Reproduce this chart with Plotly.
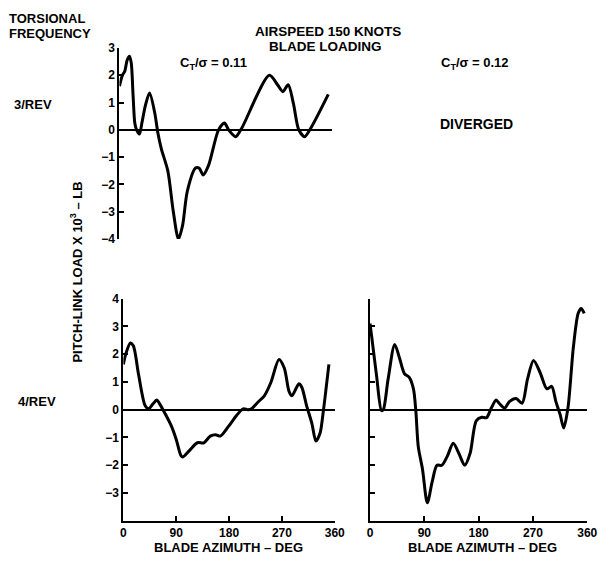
import plotly.graph_objects as go

# ---- data ----
az_3rev_011 = [0, 5, 9, 13, 17, 20, 23, 26, 29, 34, 38, 44, 51, 60, 65, 71, 82, 91, 100, 107, 115, 129, 135,
               142, 151, 168, 178, 185, 197, 207, 254, 268, 277, 286, 295, 304, 314, 324, 354]
load_3rev_011 = [1.6, 2.0, 2.15, 2.55, 2.7, 2.45, 1.3, 0.25, 0.0, -0.15, 0.25, 0.9, 1.35, 0.6, -0.1, -0.7,
                 -1.5, -2.95, -4.0, -3.5, -2.25, -1.4, -1.4, -1.65, -1.3, 0.0, 0.25, 0.0, -0.25, 0.05, 2.0,
                 1.65, 1.4, 1.65, 0.95, 0.0, -0.25, 0.05, 1.3]

az_4rev_011 = [0, 4, 12, 17, 26, 37, 43, 50, 57, 62, 71, 82, 90, 98, 101, 112, 126, 137, 148, 157, 165, 179,
               193, 204, 212, 218, 229, 240, 251, 265, 274, 282, 287, 299, 304, 312, 321, 328, 335, 340, 350]
load_4rev_011 = [1.63, 2.0, 2.4, 2.3, 1.25, 0.15, 0.03, 0.2, 0.35, 0.2, -0.14, -0.6, -1.07, -1.65, -1.7,
                 -1.48, -1.19, -1.19, -0.95, -0.9, -0.95, -0.6, -0.2, 0.03, 0.0, 0.03, 0.27, 0.5, 0.97,
                 1.81, 1.5, 0.67, 0.5, 0.93, 0.8, 0.15, -0.49, -1.13, -0.84, -0.14, 1.63]

az_4rev_012 = [0, 3, 11, 19, 22, 30, 41, 49, 57, 65, 72, 76, 80, 87, 95, 103, 111, 119, 128, 138, 147, 157,
               166, 176, 185, 193, 201, 209, 214, 223, 231, 242, 252, 261, 271, 282, 293, 301, 308, 315,
               321, 328, 337, 345, 350, 355]
load_4rev_012 = [3.1, 2.6, 1.2, -0.03, 0.0, 1.1, 2.35, 1.85, 1.3, 1.16, 0.75, -0.06, -1.33, -2.14, -3.35,
                 -2.6, -2.0, -2.0, -1.68, -1.21, -1.56, -2.0, -1.56, -0.4, -0.27, -0.29, 0.06, 0.35, 0.23,
                 0.06, 0.29, 0.4, 0.23, 1.1, 1.77, 1.33, 0.75, 0.84, 0.29, -0.17, -0.66, 0.06, 2.25, 3.47,
                 3.64, 3.47]

x_ticks = [0, 90, 180, 270, 360]
y_ticks_top = [-4, -3, -2, -1, 0, 1, 2, 3]
y_ticks_bot = [-3, -2, -1, 0, 1, 2, 3, 4]

W, H = 609, 561
FONT = "Liberation Sans"


def px(x):
    return x / W


def py(y):
    return 1 - y / H


fig = go.Figure()
line_style = dict(color="black", width=3, shape="spline", smoothing=0.8)
fig.add_trace(go.Scatter(x=az_3rev_011, y=load_3rev_011, mode="lines", line=line_style,
                         xaxis="x", yaxis="y", showlegend=False))
fig.add_trace(go.Scatter(x=az_4rev_011, y=load_4rev_011, mode="lines", line=line_style,
                         xaxis="x2", yaxis="y2", showlegend=False))
fig.add_trace(go.Scatter(x=az_4rev_012, y=load_4rev_012, mode="lines", line=line_style,
                         xaxis="x3", yaxis="y3", showlegend=False))

tickfont = dict(family=FONT, size=12, color="black", weight="bold")
yax_common = dict(showgrid=False, zeroline=True, zerolinecolor="black", zerolinewidth=2,
                  showline=True, linecolor="black", linewidth=2, ticks="inside", ticklen=5,
                  tickwidth=2, tickcolor="black")
xax_bottom = dict(range=[0, 360], tickvals=x_ticks, showgrid=False, zeroline=False, showline=True,
                  linecolor="black", linewidth=2, ticks="inside", ticklen=5, tickwidth=2,
                  tickcolor="black", tickfont=tickfont)

fig.update_layout(
    width=W, height=H, margin=dict(l=0, r=0, t=0, b=0),
    paper_bgcolor="white", plot_bgcolor="white",
    xaxis=dict(domain=[px(119), px(336)], range=[0, 360], showgrid=False, zeroline=False,
               showline=False, showticklabels=False, ticks=""),
    yaxis=dict(domain=[py(238), py(42)], range=[-4, 3], tickvals=y_ticks_top, tickfont=tickfont,
               **yax_common),
    xaxis2=dict(domain=[px(123), px(339)], anchor="y2", **xax_bottom),
    yaxis2=dict(domain=[py(527), py(299)], range=[-4, 4], tickvals=y_ticks_bot, anchor="x2",
                tickfont=tickfont, **yax_common),
    xaxis3=dict(domain=[px(375), px(597)], anchor="y3", **xax_bottom),
    yaxis3=dict(domain=[py(527), py(299)], range=[-4, 4], tickvals=y_ticks_bot, anchor="x3",
                showticklabels=False, **yax_common),
)


def txt(x, y, s, size=12, angle=0, xanchor="center"):
    fig.add_annotation(x=px(x), y=py(y), xref="paper", yref="paper", text=s, showarrow=False,
                       xanchor=xanchor, yanchor="middle", textangle=angle, borderpad=0,
                       font=dict(family=FONT, size=size, color="black", weight="bold"))


txt(5, 12, "TORSIONAL", size=13, xanchor="left")
txt(5, 27, "FREQUENCY", size=13, xanchor="left")
txt(332, 25, "AIRSPEED 150 KNOTS", size=13.5)
txt(330, 40, "BLADE LOADING", size=13.5)
txt(215, 58, "C<sub>T</sub>/σ = 0.11", size=13)
txt(482, 58, "C<sub>T</sub>/σ = 0.12", size=13)
txt(484, 120, "DIVERGED", size=14)
txt(31, 100, "3/REV", size=13)
txt(35, 405, "4/REV", size=13)
txt(75, 272, "PITCH-LINK LOAD X 10<sup>3</sup> – LB", size=13, angle=-90)
txt(230, 554, "BLADE AZIMUTH – DEG", size=13)
txt(490, 554, "BLADE AZIMUTH – DEG", size=13)

fig.write_html("out.html")
